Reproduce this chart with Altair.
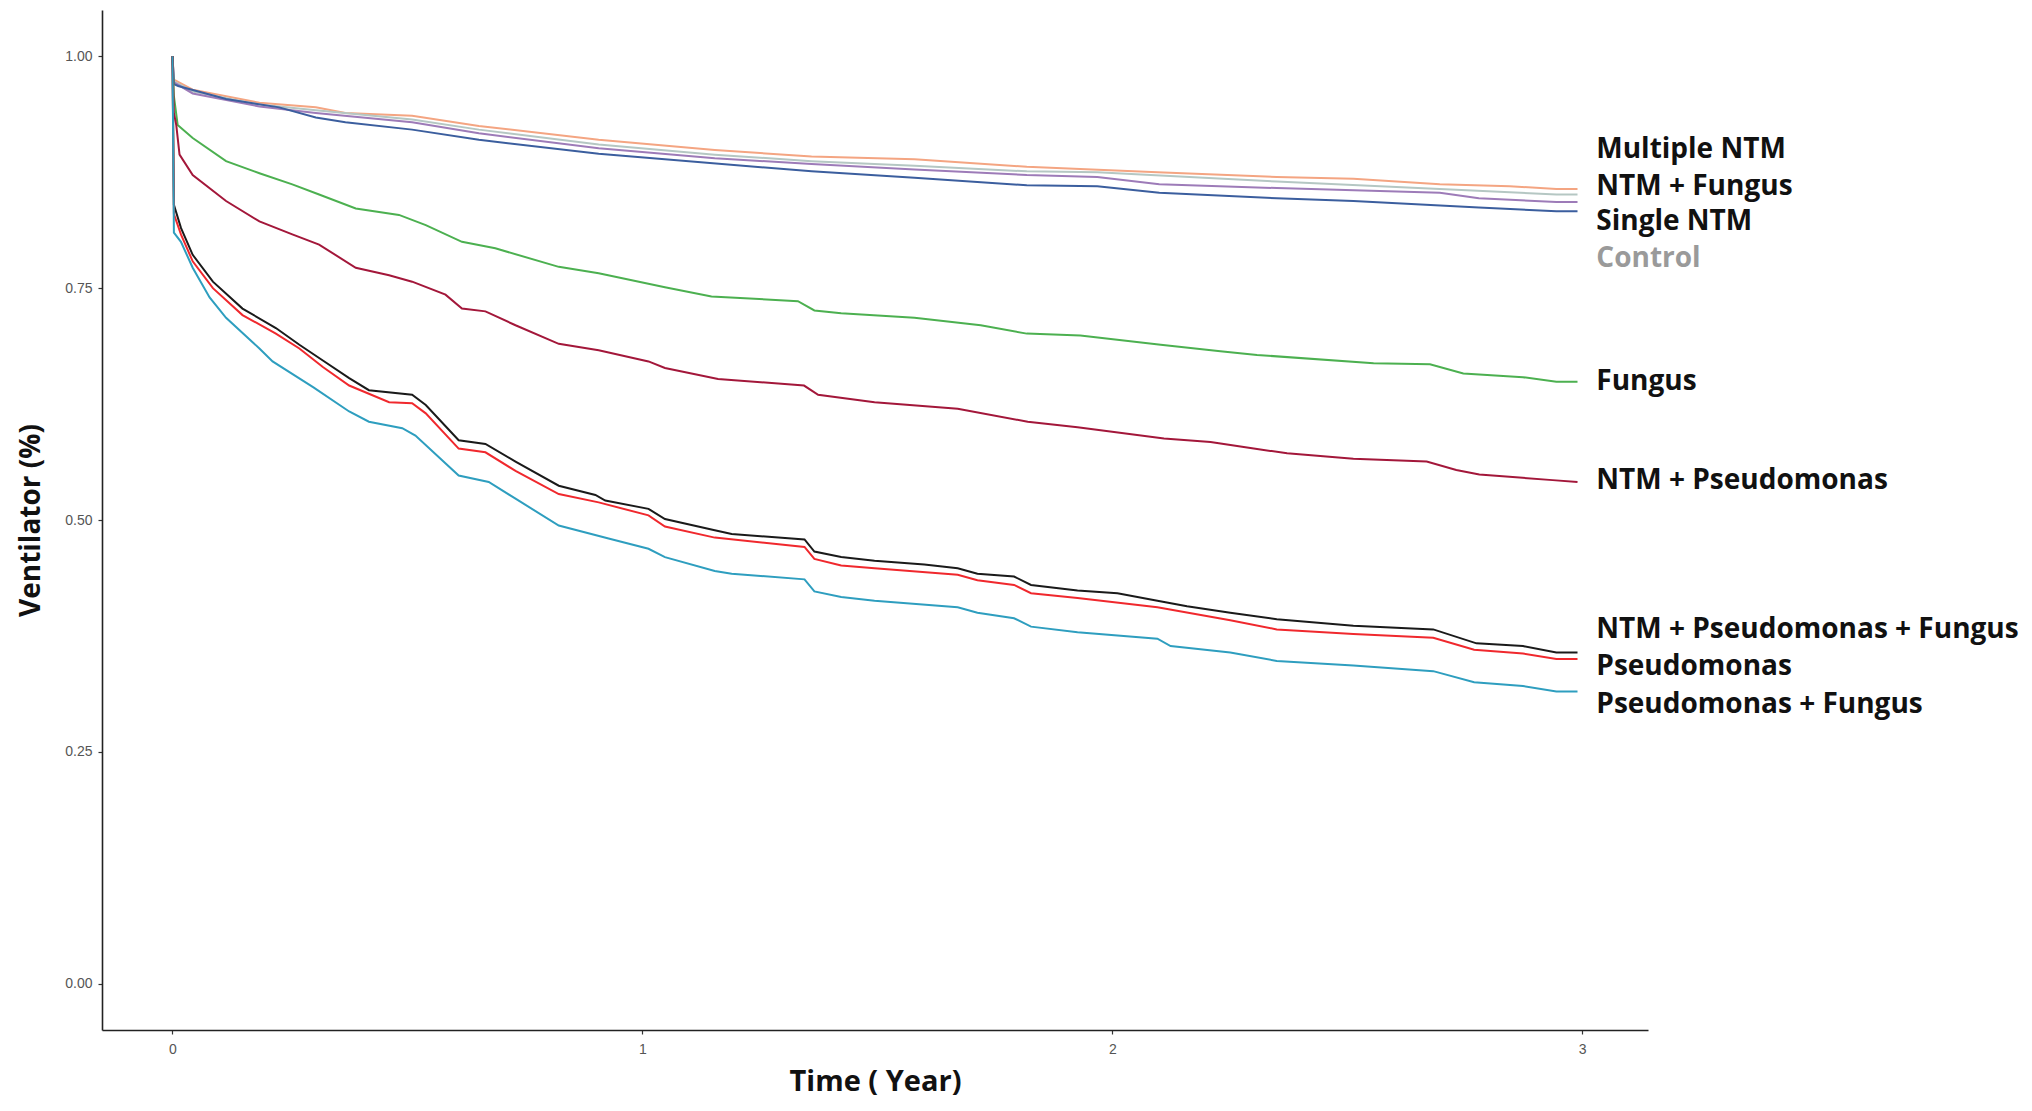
import altair as alt
import pandas as pd

# ---- data ----
series_names = ["Multiple NTM", "NTM + Fungus", "Single NTM", "Control", "Fungus",
                "NTM + Pseudomonas", "NTM + Pseudomonas + Fungus", "Pseudomonas",
                "Pseudomonas + Fungus"]
line_colors = ["#F4A582", "#B5C7C3", "#9D7BB8", "#3B5E9E", "#4CB050",
               "#A3173A", "#1A1A1A", "#F0282D", "#2E9EBF"]

t_multiple = [0, 0.003, 0.043, 0.185, 0.305, 0.368, 0.51, 0.652, 0.907, 1.154, 1.36, 1.579, 1.818, 2.096, 2.35, 2.513, 2.697, 2.846, 2.945, 2.99]
v_multiple = [1.0, 0.975, 0.964, 0.950, 0.945, 0.939, 0.936, 0.925, 0.910, 0.899, 0.892, 0.889, 0.881, 0.875, 0.870, 0.868, 0.862, 0.860, 0.857, 0.857]

t_ntm_fungus = [0, 0.003, 0.043, 0.185, 0.305, 0.51, 0.652, 0.907, 1.154, 1.36, 1.579, 1.818, 1.968, 2.35, 2.697, 2.945, 2.99]
v_ntm_fungus = [1.0, 0.973, 0.962, 0.948, 0.942, 0.932, 0.921, 0.905, 0.894, 0.887, 0.882, 0.876, 0.875, 0.865, 0.857, 0.851, 0.851]

t_single = [0, 0.003, 0.043, 0.185, 0.305, 0.51, 0.652, 0.907, 1.154, 1.36, 1.579, 1.818, 1.968, 2.10, 2.35, 2.697, 2.78, 2.945, 2.99]
v_single = [1.0, 0.972, 0.960, 0.946, 0.939, 0.929, 0.917, 0.901, 0.890, 0.884, 0.878, 0.872, 0.870, 0.862, 0.858, 0.853, 0.847, 0.843, 0.843]

t_control = [0, 0.003, 0.012, 0.114, 0.227, 0.305, 0.368, 0.51, 0.652, 0.907, 1.36, 1.579, 1.818, 1.968, 2.10, 2.35, 2.513, 2.78, 2.945, 2.99]
v_control = [1.0, 0.970, 0.968, 0.954, 0.945, 0.934, 0.929, 0.921, 0.910, 0.895, 0.876, 0.869, 0.861, 0.860, 0.853, 0.847, 0.844, 0.837, 0.833, 0.833]

t_fungus = [0, 0.003, 0.011, 0.043, 0.114, 0.185, 0.255, 0.312, 0.39, 0.482, 0.539, 0.616, 0.687, 0.822, 0.907, 1.048, 1.147, 1.331, 1.366, 1.423, 1.579, 1.72, 1.818, 1.932, 2.103, 2.23, 2.308, 2.556, 2.676, 2.747, 2.874, 2.945, 2.99]
v_fungus = [1.0, 0.957, 0.926, 0.912, 0.887, 0.874, 0.862, 0.851, 0.836, 0.829, 0.818, 0.800, 0.793, 0.773, 0.766, 0.751, 0.741, 0.736, 0.726, 0.723, 0.718, 0.710, 0.701, 0.699, 0.689, 0.682, 0.678, 0.669, 0.668, 0.658, 0.654, 0.649, 0.649]

t_ntm_pseudo = [0, 0.003, 0.008, 0.015, 0.043, 0.114, 0.185, 0.255, 0.312, 0.39, 0.461, 0.51, 0.581, 0.616, 0.666, 0.73, 0.822, 0.907, 1.013, 1.048, 1.161, 1.344, 1.374, 1.494, 1.671, 1.82, 1.926, 2.11, 2.209, 2.301, 2.372, 2.513, 2.669, 2.732, 2.781, 2.937, 2.99]
v_ntm_pseudo = [1.0, 0.939, 0.926, 0.894, 0.872, 0.844, 0.822, 0.808, 0.797, 0.772, 0.764, 0.757, 0.743, 0.728, 0.725, 0.710, 0.690, 0.683, 0.671, 0.664, 0.652, 0.645, 0.635, 0.627, 0.620, 0.606, 0.600, 0.588, 0.584, 0.577, 0.572, 0.566, 0.563, 0.554, 0.549, 0.543, 0.541]

t_ntm_pseudo_fungus = [0, 0.003, 0.018, 0.043, 0.086, 0.149, 0.22, 0.27, 0.32, 0.376, 0.418, 0.51, 0.539, 0.609, 0.666, 0.73, 0.822, 0.90, 0.921, 1.013, 1.048, 1.154, 1.19, 1.345, 1.366, 1.423, 1.494, 1.60, 1.671, 1.713, 1.791, 1.827, 1.926, 2.011, 2.096, 2.159, 2.251, 2.35, 2.513, 2.683, 2.775, 2.874, 2.945, 2.99]
v_ntm_pseudo_fungus = [1.0, 0.840, 0.815, 0.786, 0.757, 0.728, 0.707, 0.689, 0.672, 0.653, 0.640, 0.635, 0.624, 0.586, 0.582, 0.563, 0.537, 0.527, 0.521, 0.512, 0.501, 0.489, 0.485, 0.479, 0.466, 0.460, 0.456, 0.452, 0.448, 0.442, 0.439, 0.430, 0.424, 0.421, 0.413, 0.407, 0.400, 0.393, 0.386, 0.382, 0.367, 0.364, 0.357, 0.357]

t_pseudo = [0, 0.003, 0.018, 0.043, 0.086, 0.149, 0.22, 0.27, 0.32, 0.376, 0.461, 0.51, 0.539, 0.609, 0.666, 0.73, 0.822, 0.907, 1.013, 1.048, 1.154, 1.345, 1.366, 1.423, 1.494, 1.671, 1.713, 1.791, 1.827, 1.926, 2.096, 2.251, 2.35, 2.513, 2.683, 2.77, 2.874, 2.945, 2.99]
v_pseudo = [1.0, 0.830, 0.808, 0.779, 0.750, 0.721, 0.701, 0.685, 0.665, 0.645, 0.627, 0.626, 0.615, 0.577, 0.573, 0.553, 0.528, 0.519, 0.505, 0.493, 0.481, 0.471, 0.458, 0.451, 0.448, 0.441, 0.435, 0.430, 0.421, 0.416, 0.406, 0.392, 0.382, 0.377, 0.373, 0.360, 0.356, 0.350, 0.350]

t_pseudo_fungus = [0, 0.003, 0.018, 0.043, 0.079, 0.114, 0.185, 0.213, 0.30, 0.376, 0.418, 0.489, 0.517, 0.609, 0.673, 0.73, 0.822, 0.928, 1.013, 1.048, 1.154, 1.19, 1.345, 1.366, 1.423, 1.494, 1.671, 1.713, 1.791, 1.827, 1.926, 2.096, 2.124, 2.251, 2.35, 2.513, 2.683, 2.77, 2.874, 2.945, 2.99]
v_pseudo_fungus = [1.0, 0.810, 0.800, 0.772, 0.740, 0.718, 0.685, 0.671, 0.643, 0.617, 0.606, 0.599, 0.591, 0.548, 0.541, 0.523, 0.494, 0.480, 0.469, 0.460, 0.445, 0.442, 0.436, 0.423, 0.417, 0.413, 0.406, 0.400, 0.394, 0.385, 0.379, 0.372, 0.364, 0.357, 0.348, 0.343, 0.337, 0.325, 0.321, 0.315, 0.315]

all_t = [t_multiple, t_ntm_fungus, t_single, t_control, t_fungus, t_ntm_pseudo,
         t_ntm_pseudo_fungus, t_pseudo, t_pseudo_fungus]
all_v = [v_multiple, v_ntm_fungus, v_single, v_control, v_fungus, v_ntm_pseudo,
         v_ntm_pseudo_fungus, v_pseudo, v_pseudo_fungus]

# text labels at the right of the curves
label_texts = series_names
label_y = [0.899, 0.859, 0.821, 0.781, 0.649, 0.542, 0.381, 0.341, 0.301]
label_colors = ["#111111", "#111111", "#111111", "#9A9A9A", "#111111",
                "#111111", "#111111", "#111111", "#111111"]
LABEL_T = 3.03

x_ticks = [0, 1, 2, 3]
y_ticks = [0.0, 0.25, 0.5, 0.75, 1.0]

# ---- build tables ----
rows = []
for name, ts, vs in zip(series_names, all_t, all_v):
    for t, v in zip(ts, vs):
        rows.append({"series": name, "t": t, "v": v})
df = pd.DataFrame(rows)

lab_df = pd.DataFrame({"label": label_texts, "y": label_y,
                       "x": [LABEL_T] * len(label_texts), "c": label_colors})

x_scale = alt.Scale(domain=[-0.15, 3.14], nice=False, zero=False)
y_scale = alt.Scale(domain=[-0.05, 1.05], nice=False, zero=False)

lines = alt.Chart(df).mark_line(interpolate="linear", strokeWidth=2).encode(
    x=alt.X("t:Q", scale=x_scale,
            axis=alt.Axis(values=x_ticks, format="d", title="Time ( Year)",
                          labelPadding=8, titlePadding=11, titleFontSize=29)),
    y=alt.Y("v:Q", scale=y_scale,
            axis=alt.Axis(values=y_ticks, format=".2f", title="Ventilator (%)",
                          labelPadding=6, titlePadding=19, titleFontSize=28)),
    color=alt.Color("series:N", scale=alt.Scale(domain=series_names, range=line_colors),
                    legend=None),
    detail="series:N",
)

labels = alt.Chart(lab_df).mark_text(
    align="left", baseline="middle", font="Open Sans", fontWeight="bold", fontSize=28
).encode(
    x=alt.X("x:Q", scale=x_scale),
    y=alt.Y("y:Q", scale=y_scale),
    text="label:N",
    color=alt.Color("c:N", scale=None),
)

chart = alt.layer(lines, labels).properties(
    width=1546, height=1020,
    padding={"left": 94, "top": 2, "right": 376, "bottom": 73},
    autosize=alt.AutoSizeParams(type="none"),
    background="white",
).configure_view(stroke=None).configure_axis(
    grid=False, domainColor="#222222", domainWidth=1.6,
    tickColor="#333333", tickSize=4, tickWidth=1.2,
    labelFont="Liberation Sans", labelFontSize=14, labelColor="#555555",
    titleFont="Open Sans", titleFontWeight="bold", titleColor="#111111",
)

chart.save("out.html", embed_options={"renderer": "svg", "actions": False})
